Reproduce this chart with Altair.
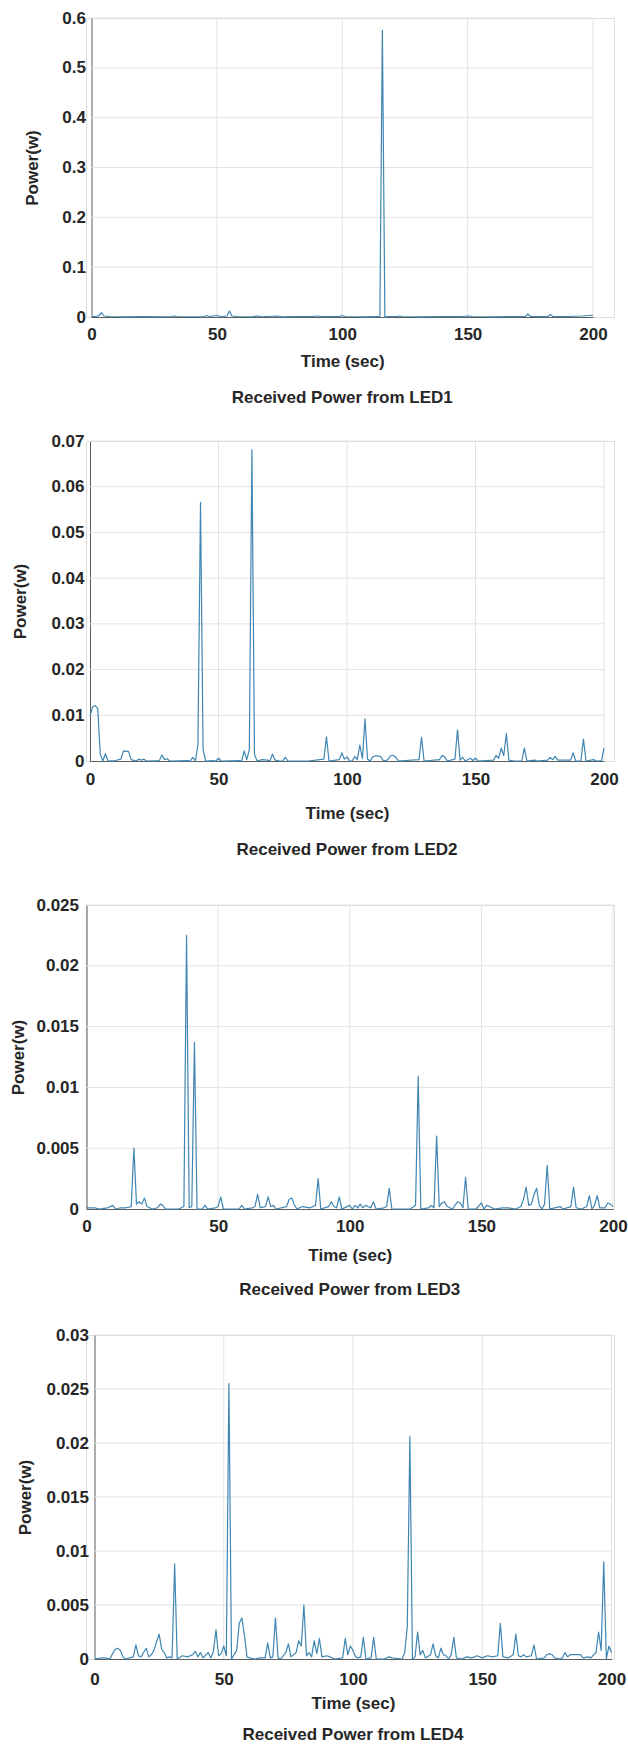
import altair as alt
import pandas as pd

FONT = "Liberation Sans"
TEXT_COLOR = "#262626"
LINE_COLOR = "#3f86b2"
GRID_COLOR = "#e3e3e3"
AXIS_COLOR = "#5c5c5c"
FS = 17

# Axis ticks and panel titles
time_ticks = [0, 50, 100, 150, 200]
power_ticks_led1 = [0, 0.1, 0.2, 0.3, 0.4, 0.5, 0.6]
power_ticks_led2 = [0, 0.01, 0.02, 0.03, 0.04, 0.05, 0.06, 0.07]
power_ticks_led3 = [0, 0.005, 0.01, 0.015, 0.02, 0.025]
power_ticks_led4 = [0, 0.005, 0.01, 0.015, 0.02, 0.025, 0.03]
led_titles = [
    "Received Power from LED1",
    "Received Power from LED2",
    "Received Power from LED3",
    "Received Power from LED4",
]

# (time in sec, received power in W)
led1_readings = [
    (0, 0.001), (2, 0.001), (3, 0.003), (4, 0.009), (5, 0.002), (7, 0.001), (12, 0.0005),
    (20, 0.001), (28, 0.0005), (32, 0.001), (33, 0.002), (34, 0.001), (40, 0.0005),
    (45, 0.001), (46, 0.003), (47, 0.001), (50, 0.003), (52, 0.0005), (54, 0.002),
    (55, 0.012), (56, 0.002), (58, 0.001), (64, 0.0005), (66, 0.002), (68, 0.0005),
    (74, 0.002), (76, 0.0005), (80, 0.001), (88, 0.001), (90, 0.002), (92, 0.001),
    (99, 0.001), (100, 0.003), (101, 0.001), (108, 0.0005), (114, 0.001), (115, 0.0),
    (116, 0.575), (117, 0.0), (118, 0.001), (122, 0.001), (123, 0.002), (124, 0.001),
    (130, 0.0005), (140, 0.001), (148, 0.001), (150, 0.002), (152, 0.001), (160, 0.0005),
    (166, 0.001), (173, 0.001), (174, 0.006), (175, 0.001), (182, 0.001), (183, 0.005),
    (184, 0.001), (190, 0.001), (196, 0.002), (200, 0.004),
]

led2_readings = [
    (0, 0.0098), (1, 0.0118), (2, 0.0121), (3, 0.0115), (4, 0.0015), (5, 0.0), (6, 0.0016),
    (7, 0.0), (10, 0.0001), (12, 0.0004), (13, 0.0022), (14, 0.0021), (15, 0.0021),
    (16, 0.0003), (18, 0.0), (19, 0.0004), (20, 0.0002), (21, 0.0004), (22, 0.0),
    (27, 0.0001), (28, 0.0013), (29, 0.0003), (30, 0.0005), (31, 0.0), (38, 0.0001),
    (39, 0.0), (40, 0.0008), (41, 0.0), (42, 0.0035), (43, 0.0566), (44, 0.0025), (45, 0.0),
    (48, 0.0001), (49, 0.0), (50, 0.0006), (51, 0.0), (58, 0.0001), (59, 0.0), (60, 0.0022),
    (61, 0.0003), (62, 0.0025), (63, 0.0681), (64, 0.0015), (65, 0.0), (67, 0.0003),
    (69, 0.0002), (70, 0.0), (71, 0.0015), (72, 0.0002), (74, 0.0), (75, 0.0), (76, 0.0008),
    (77, 0.0), (85, 0.0), (91, 0.0004), (92, 0.0053), (93, 0.0), (97, 0.0003), (98, 0.0018),
    (99, 0.0004), (100, 0.0009), (101, 0.0), (102, 0.0), (103, 0.001), (104, 0.0003),
    (105, 0.0035), (106, 0.0005), (107, 0.0092), (108, 0.0004), (109, 0.0), (110, 0.0009),
    (111, 0.0011), (112, 0.0011), (113, 0.001), (114, 0.0002), (115, 0.0), (116, 0.0004),
    (117, 0.0012), (118, 0.0012), (119, 0.0008), (120, 0.0), (128, 0.0003), (129, 0.0052),
    (130, 0.0), (136, 0.0003), (137, 0.0012), (138, 0.0009), (139, 0.0), (142, 0.0004),
    (143, 0.0068), (144, 0.0002), (145, 0.0008), (146, 0.0), (148, 0.0006), (149, 0.0001),
    (150, 0.0006), (151, 0.0), (157, 0.0002), (158, 0.0012), (159, 0.0006), (160, 0.0028),
    (161, 0.0012), (162, 0.006), (163, 0.0002), (165, 0.0), (168, 0.0), (169, 0.0028),
    (170, 0.0), (173, 0.0002), (174, 0.0), (178, 0.0002), (179, 0.0008), (180, 0.0003),
    (181, 0.001), (182, 0.0002), (187, 0.0002), (188, 0.0018), (189, 0.0), (191, 0.0),
    (192, 0.0048), (193, 0.0), (196, 0.0003), (197, 0.0), (199, 0.0001), (200, 0.0028),
]

led3_readings = [
    (0, 0.0001), (3, 0.0001), (5, 0.0), (8, 0.0001), (10, 0.0003), (11, 0.0), (13, 0.0001),
    (15, 0.0001), (17, 0.0002), (18, 0.005), (19, 0.0004), (20, 0.0006), (21, 0.0004),
    (22, 0.0009), (23, 0.0002), (25, 0.0), (27, 0.0001), (28, 0.0004), (29, 0.0003),
    (30, 0.0), (35, 0.0), (37, 0.0002), (38, 0.0225), (39, 0.0001), (40, 0.0002),
    (41, 0.0137), (42, 0.0), (44, 0.0), (45, 0.0003), (46, 0.0), (49, 0.0001), (50, 0.0002),
    (51, 0.001), (52, 0.0), (58, 0.0), (59, 0.0003), (60, 0.0), (63, 0.0001), (64, 0.0002),
    (65, 0.0012), (66, 0.0001), (68, 0.0002), (69, 0.001), (70, 0.0002), (71, 0.0003),
    (72, 0.0), (76, 0.0002), (77, 0.0008), (78, 0.0009), (79, 0.0003), (80, 0.0),
    (82, 0.0002), (85, 0.0001), (87, 0.0003), (88, 0.0025), (89, 0.0), (92, 0.0002),
    (93, 0.0006), (94, 0.0002), (95, 0.0001), (96, 0.001), (97, 0.0), (100, 0.0003),
    (101, 0.0), (102, 0.0003), (103, 0.0001), (104, 0.0004), (105, 0.0001), (106, 0.0003),
    (108, 0.0001), (109, 0.0006), (110, 0.0), (113, 0.0001), (114, 0.0002), (115, 0.0017),
    (116, 0.0), (120, 0.0), (123, 0.0), (125, 0.0003), (126, 0.0109), (127, 0.0),
    (130, 0.0001), (131, 0.0003), (132, 0.0001), (133, 0.006), (134, 0.0002), (135, 0.0005),
    (136, 0.0006), (137, 0.0002), (139, 0.0), (141, 0.0006), (142, 0.0005), (143, 0.0001),
    (144, 0.0026), (145, 0.0), (148, 0.0), (150, 0.0005), (151, 0.0), (152, 0.0003),
    (153, 0.0002), (155, 0.0), (158, 0.0001), (160, 0.0001), (163, 0.0), (165, 0.0002),
    (166, 0.0008), (167, 0.0018), (168, 0.0003), (169, 0.0004), (170, 0.0012), (171, 0.0017),
    (172, 0.0003), (173, 0.0), (174, 0.0004), (175, 0.0036), (176, 0.0), (180, 0.0002),
    (181, 0.0), (184, 0.0002), (185, 0.0018), (186, 0.0001), (188, 0.0), (190, 0.0002),
    (191, 0.0011), (192, 0.0), (193, 0.0003), (194, 0.0011), (195, 0.0001), (197, 0.0001),
    (198, 0.0005), (199, 0.0004), (200, 0.0002),
]

led4_readings = [
    (0, 0.0), (3, 0.0001), (4, 0.0001), (6, 0.0), (7, 0.0005), (8, 0.0009), (9, 0.001),
    (10, 0.0008), (11, 0.0002), (12, 0.0), (15, 0.0002), (16, 0.0013), (17, 0.0003),
    (18, 0.0002), (19, 0.0006), (20, 0.001), (21, 0.0002), (22, 0.0004), (23, 0.0008),
    (24, 0.0016), (25, 0.0023), (26, 0.0009), (27, 0.0006), (28, 0.0001), (29, 0.0002),
    (30, 0.0001), (31, 0.0088), (32, 0.0), (34, 0.0003), (36, 0.0002), (38, 0.0004),
    (39, 0.0007), (40, 0.0002), (41, 0.0006), (42, 0.0001), (44, 0.0006), (45, 0.0001),
    (46, 0.0007), (47, 0.0027), (48, 0.0003), (49, 0.0005), (50, 0.0012), (51, 0.0003),
    (52, 0.0255), (53, 0.0), (55, 0.0008), (56, 0.0033), (57, 0.0038), (58, 0.0022),
    (59, 0.0002), (60, 0.0001), (62, 0.0), (64, 0.0001), (66, 0.0001), (67, 0.0015),
    (68, 0.0001), (69, 0.0002), (70, 0.0038), (71, 0.0001), (72, 0.0), (74, 0.0006),
    (75, 0.0014), (76, 0.0002), (78, 0.0006), (79, 0.0017), (80, 0.0012), (81, 0.005),
    (82, 0.0003), (83, 0.0006), (84, 0.0002), (85, 0.0017), (86, 0.0005), (87, 0.0019),
    (88, 0.0002), (90, 0.0003), (91, 0.0002), (93, 0.0), (96, 0.0001), (97, 0.0019),
    (98, 0.0004), (99, 0.0012), (100, 0.0008), (101, 0.0002), (102, 0.0001), (103, 0.0002),
    (104, 0.002), (105, 0.0), (107, 0.0001), (108, 0.002), (109, 0.0), (112, 0.0),
    (114, 0.0002), (115, 0.0001), (119, 0.0), (120, 0.0006), (121, 0.003), (122, 0.0206),
    (123, 0.0), (124, 0.0002), (125, 0.0025), (126, 0.0004), (127, 0.0008), (128, 0.0001),
    (130, 0.0004), (131, 0.0014), (132, 0.0003), (133, 0.0001), (134, 0.001), (135, 0.0004),
    (136, 0.0003), (137, 0.0), (138, 0.0004), (139, 0.002), (140, 0.0001), (142, 0.0),
    (144, 0.0002), (146, 0.0001), (148, 0.0003), (150, 0.0001), (152, 0.0003), (154, 0.0002),
    (156, 0.0003), (157, 0.0033), (158, 0.0002), (160, 0.0001), (162, 0.0004), (163, 0.0023),
    (164, 0.0003), (165, 0.0002), (166, 0.0004), (167, 0.0002), (169, 0.0003), (170, 0.0013),
    (171, 0.0), (174, 0.0001), (175, 0.0004), (176, 0.0005), (177, 0.0004), (178, 0.0001),
    (180, 0.0), (181, 0.0001), (182, 0.0006), (183, 0.0002), (184, 0.0004), (186, 0.0004),
    (188, 0.0004), (189, 0.0001), (191, 0.0002), (192, 0.0001), (194, 0.0006), (195, 0.0025),
    (196, 0.0008), (197, 0.009), (198, 0.0), (199, 0.0012), (200, 0.0006),
]

# Every panel group is PANEL_W wide; the plot frame sits inside it from a to a + w.
PANEL_W = 528
layouts = [
    dict(a=5.5, w=501.5, h=299, ytitle=-59.5, ylab=6, xlab=17, xtitle=44, title=81,
         spacers=[(-85, -17), (5.5, 409)]),
    dict(a=4.0, w=514.0, h=320, ytitle=-69.5, ylab=6, xlab=18.5, xtitle=52, title=89,
         spacers=[(4.0, -12), (4.0, 450)]),
    dict(a=0.5, w=526.5, h=304, ytitle=-68.0, ylab=8, xlab=17.5, xtitle=46, title=81,
         spacers=[(0.5, -12), (0.5, 416)]),
    dict(a=8.5, w=517.0, h=324, ytitle=-69.0, ylab=6, xlab=20, xtitle=44, title=76,
         spacers=[(8.5, -12)]),
]


def spacer(x, y):
    # invisible anchor that fixes the panel's outer bounds
    return alt.Chart(pd.DataFrame({"s": [0]})).mark_rule(
        stroke="#ffffff", strokeOpacity=0
    ).encode(x=alt.value(x), x2=alt.value(x + 1), y=alt.value(y))


def panel(readings, yticks, title, lay):
    df = pd.DataFrame(readings, columns=["t", "p"])
    a, w, h = lay["a"], lay["w"], lay["h"]

    xscale = alt.Scale(domain=[0, 200], range=[a, a + w], nice=False, zero=False)
    yscale = alt.Scale(domain=[0, yticks[-1]], nice=False)

    common = dict(
        grid=False, ticks=False, tickSize=0, domainColor=AXIS_COLOR, domainWidth=1,
        labelFont=FONT, labelFontSize=FS, labelFontWeight="bold", labelColor=TEXT_COLOR,
        labelOverlap=False, labelFlush=False,
        titleFont=FONT, titleFontSize=FS, titleFontWeight="bold", titleColor=TEXT_COLOR,
        titleBaseline="middle",
    )
    xaxis = alt.Axis(
        values=time_ticks, format="~r", title="Time (sec)",
        labelPadding=lay["xlab"], labelBaseline="middle",
        titleX=a + w / 2, titleY=lay["xtitle"], titleAlign="center", **common,
    )
    yaxis = alt.Axis(
        values=yticks, format="~r", title="Power(w)", offset=-a,
        labelPadding=lay["ylab"], titleX=lay["ytitle"], titleAngle=270,
        titleAlign="center", **common,
    )

    vgrid = alt.Chart(pd.DataFrame({"t": [v for v in time_ticks if v > 0]})).mark_rule(
        color=GRID_COLOR, strokeWidth=1
    ).encode(x=alt.X("t:Q", scale=xscale, axis=xaxis), y=alt.value(0), y2=alt.value(h))

    hgrid = alt.Chart(pd.DataFrame({"p": [v for v in yticks if v > 0]})).mark_rule(
        color=GRID_COLOR, strokeWidth=1
    ).encode(y=alt.Y("p:Q", scale=yscale, axis=yaxis), x=alt.value(a), x2=alt.value(a + w))

    line = alt.Chart(df).mark_line(
        color=LINE_COLOR, strokeWidth=1.2, strokeJoin="round"
    ).encode(
        x=alt.X("t:Q", scale=xscale, axis=xaxis),
        y=alt.Y("p:Q", scale=yscale, axis=yaxis),
    )

    # panel caption below the time axis
    caption = alt.Chart(pd.DataFrame({"s": [0]})).mark_text(
        font=FONT, fontSize=FS, fontWeight="bold", color=TEXT_COLOR,
        align="center", baseline="middle",
    ).encode(
        x=alt.value(a + w / 2), y=alt.value(h + lay["title"]), text=alt.value(title)
    )

    layers = [vgrid, hgrid, line, caption] + [spacer(x, y) for x, y in lay["spacers"]]
    return alt.layer(*layers).properties(width=PANEL_W, height=h)


series = [led1_readings, led2_readings, led3_readings, led4_readings]
ticks = [power_ticks_led1, power_ticks_led2, power_ticks_led3, power_ticks_led4]

panels = [panel(s, t, ttl, lay) for s, t, ttl, lay in zip(series, ticks, led_titles, layouts)]

chart = alt.vconcat(
    *panels, spacing=0, bounds="full",
    padding={"left": 0, "top": 0, "right": 0, "bottom": 0},
).configure_view(stroke=None).configure(background="white")

chart.save("out.html", embed_options={"renderer": "svg", "actions": False})
